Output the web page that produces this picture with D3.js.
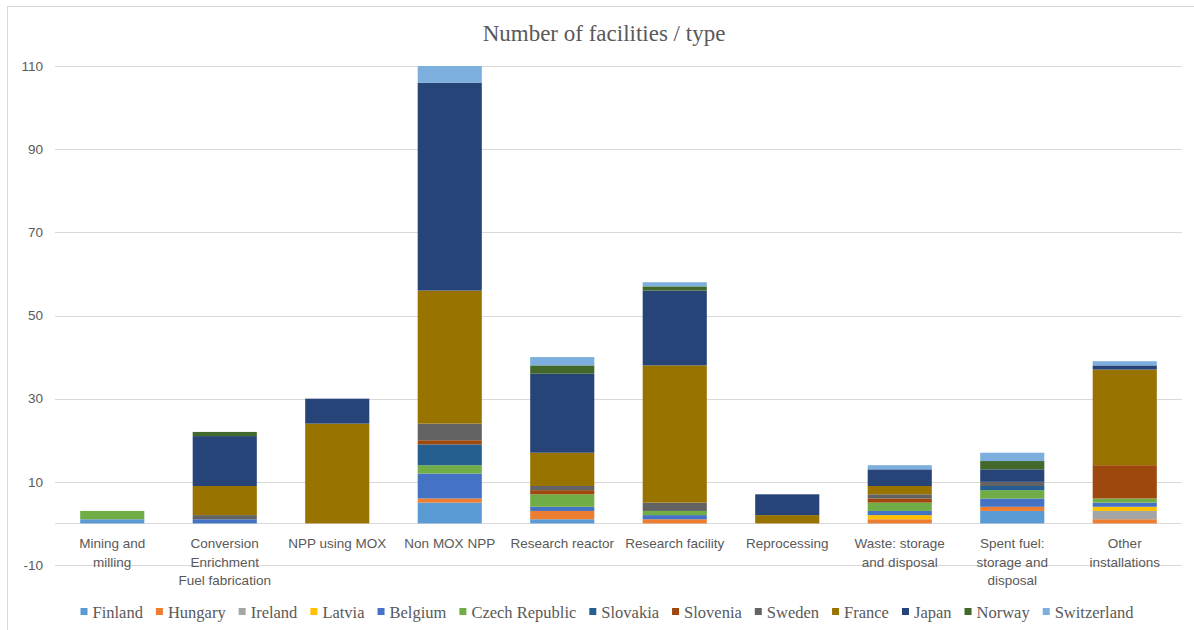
<!DOCTYPE html>
<html>
<head>
<meta charset="utf-8">
<script src="https://cdn.jsdelivr.net/npm/d3@7"></script>
<style>
  body { margin: 0; background: #fff; }
</style>
</head>
<body>
<div id="chart"></div>
<script>
// Categories (x axis), each label split into lines
var categories = [
  ["Mining and", "milling"],
  ["Conversion", "Enrichment", "Fuel fabrication"],
  ["NPP using MOX"],
  ["Non MOX NPP"],
  ["Research reactor"],
  ["Research facility"],
  ["Reprocessing"],
  ["Waste: storage", "and disposal"],
  ["Spent fuel:", "storage and", "disposal"],
  ["Other", "installations"]
];

// Series names in stacking order
var countries = ["Finland", "Hungary", "Ireland", "Latvia", "Belgium", "Czech Republic",
  "Slovakia", "Slovenia", "Sweden", "France", "Japan", "Norway", "Switzerland"];

// Values per country, one per category
var finland     = [1, 0, 0, 5, 1, 0, 0, 0, 3, 0];
var hungary     = [0, 0, 0, 1, 2, 1, 0, 1, 1, 1];
var ireland     = [0, 0, 0, 0, 0, 0, 0, 0, 0, 2];
var latvia      = [0, 0, 0, 0, 0, 0, 0, 1, 0, 1];
var belgium     = [0, 1, 0, 6, 1, 1, 0, 1, 2, 1];
var czech       = [2, 0, 0, 2, 3, 1, 0, 2, 2, 1];
var slovakia    = [0, 0, 0, 5, 0, 0, 0, 0, 1, 0];
var slovenia    = [0, 0, 0, 1, 1, 0, 0, 1, 0, 8];
var sweden      = [0, 1, 0, 4, 1, 2, 0, 1, 1, 0];
var france      = [0, 7, 24, 32, 8, 33, 2, 2, 0, 23];
var japan       = [0, 12, 6, 50, 19, 18, 5, 4, 3, 1];
var norway      = [0, 1, 0, 0, 2, 1, 0, 0, 2, 0];
var switzerland = [0, 0, 0, 4, 2, 1, 0, 1, 2, 1];

var yTicks = [-10, 10, 30, 50, 70, 90, 110];

var seriesValues = [finland, hungary, ireland, latvia, belgium, czech, slovakia,
  slovenia, sweden, france, japan, norway, switzerland];

var colors = ["#5B9BD5", "#ED7D31", "#A5A5A5", "#FFC000", "#4472C4", "#70AD47",
  "#255E91", "#9E480E", "#636363", "#997300", "#264478", "#43682B", "#7CAFDD"];

var width = 1194, height = 630;
var textColor = "#595959", gridColor = "#d9d9d9";

var svg = d3.select("#chart").append("svg")
  .attr("width", width)
  .attr("height", height);

// chart border
svg.append("rect")
  .attr("x", 7.5).attr("y", 6.5)
  .attr("width", 1200).attr("height", 640)
  .attr("fill", "#fff")
  .attr("stroke", gridColor);

// build table rows for d3.stack
var rows = categories.map((c, i) => {
  var row = { idx: i };
  countries.forEach((name, j) => { row[name] = seriesValues[j][i]; });
  return row;
});
var stacked = d3.stack().keys(countries)(rows);

var x = d3.scaleBand()
  .domain(d3.range(categories.length))
  .range([56, 1181])
  .paddingInner(0.43)
  .paddingOuter(0.215);

var y = d3.scaleLinear()
  .domain([-10, 110])
  .range([565, 66]);

// gridlines
svg.append("g").selectAll("line")
  .data(yTicks.concat([0]))
  .enter().append("line")
  .attr("x1", 55).attr("x2", 1182)
  .attr("y1", d => Math.round(y(d)) + 0.5)
  .attr("y2", d => Math.round(y(d)) + 0.5)
  .attr("stroke", gridColor)
  .attr("stroke-width", 1);

// y tick labels
svg.append("g").selectAll("text")
  .data(yTicks)
  .enter().append("text")
  .attr("x", 43)
  .attr("y", d => y(d))
  .attr("dy", "0.35em")
  .attr("text-anchor", "end")
  .attr("font-family", "Liberation Sans, Arial, sans-serif")
  .attr("font-size", 13.5)
  .attr("fill", textColor)
  .text(d => d);

// stacked bars
svg.append("g").selectAll("g")
  .data(stacked)
  .enter().append("g")
  .attr("fill", (d, i) => colors[i])
  .selectAll("rect")
  .data(d => d)
  .enter().append("rect")
  .attr("x", d => x(d.data.idx))
  .attr("width", x.bandwidth())
  .attr("y", d => y(d[1]))
  .attr("height", d => y(d[0]) - y(d[1]));

// category labels
var catG = svg.append("g").selectAll("text")
  .data(categories)
  .enter().append("text")
  .attr("text-anchor", "middle")
  .attr("font-family", "Liberation Sans, Arial, sans-serif")
  .attr("font-size", 13.5)
  .attr("fill", textColor);
catG.selectAll("tspan")
  .data((d, i) => d.map(line => ({ line: line, i: i })))
  .enter().append("tspan")
  .attr("x", d => x(d.i) + x.bandwidth() / 2)
  .attr("y", (d, k) => 548 + k * 18.5)
  .text(d => d.line);

// title
svg.append("text")
  .attr("x", 604)
  .attr("y", 41)
  .attr("text-anchor", "middle")
  .attr("font-family", "Liberation Serif, Times New Roman, serif")
  .attr("font-size", 23)
  .attr("fill", textColor)
  .text("Number of facilities / type");

// legend
var legend = svg.append("g");
var items = legend.selectAll("g")
  .data(countries)
  .enter().append("g");
items.append("rect")
  .attr("width", 7).attr("height", 7)
  .attr("y", 608)
  .attr("fill", (d, i) => colors[i]);
items.append("text")
  .attr("x", 12)
  .attr("y", 617.5)
  .attr("font-family", "Liberation Serif, Times New Roman, serif")
  .attr("font-size", 16.5)
  .attr("fill", textColor)
  .text(d => d);

var widths = [];
items.each(function() {
  widths.push(12 + d3.select(this).select("text").node().getComputedTextLength());
});
var gap = 13;
var total = d3.sum(widths) + gap * (widths.length - 1);
var xPos = 607 - total / 2;
items.attr("transform", (d, i) => {
  var t = "translate(" + xPos + ",0)";
  xPos += widths[i] + gap;
  return t;
});
</script>
</body>
</html>
